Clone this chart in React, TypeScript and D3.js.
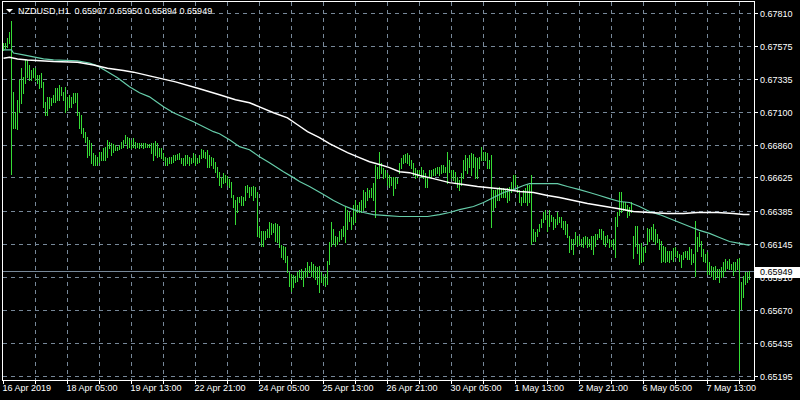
import React from "react";
import * as d3 from "d3";

const W = 800;
const H = 400;

// Symbol / header
const symbolTitle = "NZDUSD,H1";
const lastOHLC = [0.65907, 0.6595, 0.65894, 0.65949];
const bidPrice = 0.65949;

// Price axis tick labels
const yTicks = [0.6781, 0.67575, 0.67335, 0.671, 0.6686, 0.66625, 0.66385, 0.66145, 0.6591, 0.6567, 0.65435, 0.65195];
const yMin = 0.65195;
const yMax = 0.6781;

// Time axis labels (every 32 hourly bars)
const xLabels = ["16 Apr 2019", "18 Apr 05:00", "19 Apr 13:00", "22 Apr 21:00", "24 Apr 05:00", "25 Apr 13:00", "26 Apr 21:00", "30 Apr 05:00", "1 May 13:00", "2 May 21:00", "6 May 05:00", "7 May 13:00"];

// Hourly bars: highs and lows in points (1e-5)
const highs = [
  67594, 67594, 67630, 67673, 67752, 67242, 67098, 67185, 67328, 67414,
  67350, 67472, 67472, 67436, 67400, 67414, 67414, 67364, 67364, 67379,
  67314, 67170, 67206, 67206, 67199, 67220, 67271, 67271, 67292, 67278,
  67242, 67278, 67206, 67220, 67206, 67235, 67235, 67235, 67098, 67077,
  66983, 66955, 66919, 66897, 66876, 66804, 66790, 66775, 66811, 66811,
  66840, 66847, 66897, 66883, 66876, 66869, 66861, 66847, 66861, 66883,
  66897, 66933, 66919, 66912, 66897, 66912, 66883, 66876, 66876, 66876,
  66876, 66876, 66869, 66869, 66876, 66876, 66890, 66876, 66840, 66840,
  66804, 66775, 66768, 66775, 66775, 66790, 66790, 66797, 66804, 66768,
  66768, 66790, 66790, 66775, 66768, 66804, 66790, 66768, 66790, 66833,
  66825, 66811, 66825, 66790, 66775, 66768, 66739, 66703, 66667, 66631,
  66660, 66646, 66639, 66617, 66596, 66502, 66466, 66488, 66481, 66495,
  66481, 66567, 66574, 66560, 66560, 66567, 66560, 66517, 66265, 66236,
  66236, 66236, 66251, 66301, 66294, 66287, 66294, 66287, 66272, 66136,
  66129, 66121, 66057, 65942, 65927, 65920, 65913, 65942, 65956, 65963,
  65949, 65970, 66014, 65985, 66014, 65999, 65985, 65978, 65985, 65942,
  65913, 65927, 66021, 66157, 66301, 66251, 66200, 66193, 66236, 66251,
  66272, 66409, 66394, 66380, 66344, 66430, 66466, 66430, 66445, 66466,
  66538, 66524, 66552, 66538, 66552, 66588, 66718, 66703, 66811, 66732,
  66696, 66682, 66660, 66646, 66631, 66631, 66631, 66624, 66732, 66768,
  66790, 66797, 66804, 66790, 66754, 66732, 66696, 66682, 66682, 66703,
  66682, 66660, 66631, 66682, 66682, 66689, 66696, 66703, 66703, 66718,
  66718, 66703, 66811, 66754, 66682, 66682, 66667, 66631, 66610, 66660,
  66754, 66790, 66768, 66790, 66804, 66797, 66775, 66768, 66775, 66847,
  66811, 66811, 66804, 66754, 66790, 66538, 66538, 66552, 66560, 66552,
  66552, 66545, 66552, 66560, 66596, 66646, 66646, 66574, 66538, 66488,
  66538, 66552, 66574, 66574, 66646, 66251, 66229, 66251, 66287, 66323,
  66380, 66394, 66358, 66394, 66358, 66337, 66323, 66373, 66344, 66337,
  66308, 66308, 66287, 66200, 66179, 66179, 66229, 66200, 66200, 66179,
  66193, 66200, 66193, 66179, 66200, 66200, 66215, 66215, 66251, 66251,
  66236, 66200, 66208, 66179, 66172, 66179, 66337, 66380, 66517, 66524,
  66452, 66445, 66430, 66409, 66445, 66200, 66279, 66272, 66143, 66150,
  66121, 66129, 66258, 66251, 66265, 66287, 66251, 66215, 66179, 66164,
  66129, 66121, 66093, 66093, 66093, 66114, 66121, 66093, 66071, 66064,
  66085, 66093, 66093, 66121, 66107, 66071, 66308, 66193, 66229, 66164,
  66107, 66071, 66085, 66014, 65985, 65978, 65985, 65963, 65963, 65978,
  66014, 66035, 66021, 66035, 65999, 66014, 66014, 66035, 66042, 65870,
  65913, 65942, 65942, 65950,
];
const lows = [
  67544, 67558, 67565, 67594, 66653, 66983, 66983, 66976, 67098, 67163,
  67235, 67307, 67350, 67328, 67328, 67350, 67328, 67307, 67271, 67278,
  67134, 67077, 67077, 67127, 67149, 67170, 67170, 67185, 67185, 67220,
  67185, 67098, 67113, 67134, 67134, 67163, 67170, 67077, 66983, 66948,
  66919, 66883, 66775, 66790, 66732, 66718, 66718, 66718, 66739, 66754,
  66754, 66754, 66775, 66840, 66790, 66811, 66825, 66825, 66833, 66840,
  66847, 66876, 66840, 66847, 66840, 66847, 66840, 66847, 66840, 66847,
  66840, 66847, 66847, 66847, 66804, 66754, 66790, 66775, 66782, 66768,
  66754, 66718, 66718, 66732, 66732, 66739, 66754, 66761, 66761, 66732,
  66718, 66718, 66732, 66718, 66732, 66739, 66718, 66732, 66739, 66768,
  66775, 66768, 66703, 66703, 66718, 66696, 66667, 66631, 66574, 66560,
  66588, 66596, 66574, 66560, 66488, 66416, 66287, 66373, 66445, 66430,
  66430, 66466, 66517, 66488, 66502, 66466, 66488, 66200, 66193, 66129,
  66129, 66179, 66193, 66193, 66215, 66229, 66164, 66157, 66121, 66049,
  66035, 66014, 65942, 65841, 65805, 65834, 65870, 65877, 65906, 65892,
  65841, 65906, 65913, 65942, 65913, 65906, 65892, 65856, 65798, 65870,
  65856, 65841, 65856, 65999, 66129, 66143, 66129, 66143, 66164, 66179,
  66200, 66157, 66251, 66308, 66251, 66287, 66301, 66373, 66380, 66380,
  66394, 66416, 66466, 66481, 66488, 66466, 66337, 66624, 66624, 66660,
  66624, 66631, 66574, 66560, 66574, 66502, 66552, 66588, 66660, 66696,
  66732, 66739, 66732, 66718, 66696, 66646, 66624, 66631, 66646, 66631,
  66624, 66560, 66560, 66631, 66631, 66646, 66646, 66660, 66646, 66660,
  66667, 66667, 66588, 66667, 66624, 66610, 66588, 66560, 66538, 66574,
  66624, 66682, 66660, 66703, 66646, 66703, 66624, 66624, 66696, 66754,
  66754, 66754, 66696, 66696, 66265, 66394, 66416, 66466, 66466, 66481,
  66488, 66481, 66452, 66466, 66524, 66538, 66574, 66517, 66445, 66430,
  66452, 66445, 66430, 66452, 66143, 66164, 66164, 66200, 66236, 66265,
  66301, 66323, 66236, 66272, 66308, 66251, 66265, 66287, 66301, 66265,
  66251, 66215, 66193, 66085, 66107, 66071, 66143, 66129, 66143, 66129,
  66121, 66143, 66121, 66129, 66107, 66071, 66129, 66179, 66193, 66179,
  66143, 66129, 66157, 66121, 66129, 66107, 66049, 66272, 66358, 66380,
  66394, 66394, 66344, 66358, 66380, 66042, 66129, 66078, 65999, 66014,
  66021, 66085, 66143, 66164, 66179, 66164, 66143, 66157, 66107, 66014,
  66021, 66014, 66021, 66014, 66035, 66021, 66057, 66049, 66021, 65978,
  66035, 66049, 66035, 66035, 65999, 66014, 65913, 66093, 66129, 66057,
  66021, 66014, 65927, 65927, 65913, 65892, 65892, 65906, 65870, 65906,
  65913, 65949, 65970, 65963, 65963, 65920, 65949, 65963, 65238, 65676,
  65762, 65856, 65870, 65894,
];

// Slow moving average (white) vertices: bar index and value in points
const slowMaIdx = [0, 3, 7, 12, 25, 37, 45, 52, 60, 65, 73, 86, 98, 108, 116, 123, 128, 135, 142, 147, 152, 158, 163, 172, 178, 183, 188, 193, 198, 203, 208, 215, 223, 230, 237, 243, 252, 258, 265, 272, 278, 285, 292, 298, 307, 315, 323, 332, 340, 347, 357, 365, 370, 373];
const slowMaVal = [67484, 67491, 67479, 67472, 67460, 67456, 67436, 67412, 67395, 67384, 67357, 67314, 67264, 67221, 67185, 67163, 67134, 67091, 67055, 67005, 66955, 66912, 66869, 66804, 66768, 66739, 66718, 66696, 66667, 66660, 66639, 66617, 66588, 66574, 66560, 66552, 66538, 66524, 66517, 66495, 66481, 66459, 66438, 66423, 66402, 66380, 66373, 66366, 66366, 66373, 66373, 66366, 66358, 66358];

// Fast moving average (green) vertices
const fastMaIdx = [0, 4, 5, 10, 15, 20, 25, 37, 43, 47, 52, 57, 63, 68, 73, 80, 85, 95, 105, 108, 113, 118, 123, 128, 133, 140, 145, 148, 153, 160, 165, 170, 175, 180, 185, 192, 198, 203, 212, 218, 223, 228, 235, 240, 245, 250, 255, 260, 263, 277, 282, 288, 293, 298, 303, 308, 313, 318, 323, 328, 333, 338, 343, 348, 353, 358, 363, 368, 373];
const fastMaVal = [67544, 67544, 67522, 67508, 67494, 67479, 67472, 67465, 67450, 67429, 67386, 67343, 67278, 67235, 67206, 67134, 67091, 67027, 66955, 66940, 66897, 66847, 66825, 66775, 66732, 66667, 66624, 66596, 66560, 66502, 66459, 66423, 66394, 66373, 66358, 66351, 66344, 66344, 66344, 66358, 66373, 66394, 66416, 66445, 66481, 66517, 66538, 66567, 66581, 66581, 66560, 66538, 66517, 66495, 66473, 66452, 66445, 66416, 66380, 66358, 66330, 66301, 66272, 66244, 66222, 66193, 66164, 66150, 66136];

const FONT = "'Liberation Sans', Arial, sans-serif";
const GRID = "#778899";
const BAR = "#36dc36";
const FAST = "#66CDAA";

export default function App() {
  const n = highs.length;
  const x = d3.scaleLinear().domain([0, n - 1]).range([3.5, 3.5 + 2 * (n - 1)]);
  const y = d3.scaleLinear().domain([yMin, yMax]).range([376, 13]);
  const snap = (v: number) => Math.round(v) + 0.5;
  const pt = (v: number) => v / 100000;

  const left = 2.5;
  const right = 754.5;
  const top = 1.5;
  const bottom = 380.5;

  const vGridIdx = d3.range(16, n, 16);
  const tickIdx = d3.range(0, n, 16);
  const labelIdx = xLabels.map((_, k) => k * 32);

  const slowLine = d3
    .line<number>()
    .x((_, i) => x(slowMaIdx[i]))
    .y((d) => y(pt(d)));
  const fastLine = d3
    .line<number>()
    .x((_, i) => x(fastMaIdx[i]))
    .y((d) => y(pt(d)));

  const bidY = snap(y(bidPrice));
  const header = `${symbolTitle}  ${lastOHLC.map((v) => v.toFixed(5)).join(" ")}`;

  return (
    <svg
      width={W}
      height={H}
      style={{ position: "absolute", left: 0, top: 0, background: "#000" }}
      fontFamily={FONT}
    >
      <rect x={0} y={0} width={W} height={H} fill="#000" />
      {/* horizontal grid */}
      {yTicks.map((t) => (
        <line
          key={"hg" + t}
          x1={left}
          x2={right}
          y1={snap(y(t))}
          y2={snap(y(t))}
          stroke={GRID}
          strokeDasharray="4,4"
          shapeRendering="crispEdges"
        />
      ))}
      {/* vertical grid */}
      {vGridIdx.map((i) => (
        <line
          key={"vg" + i}
          x1={x(i)}
          x2={x(i)}
          y1={top}
          y2={bottom}
          stroke={GRID}
          strokeDasharray="4,4"
          shapeRendering="crispEdges"
        />
      ))}
      {/* bid line */}
      <line x1={left} x2={right} y1={bidY} y2={bidY} stroke={GRID} shapeRendering="crispEdges" />
      {/* bars */}
      {highs.map((h, i) => {
        const y1 = Math.round(y(pt(h)));
        let y2 = Math.round(y(pt(lows[i])));
        if (y2 <= y1) y2 = y1 + 1;
        return (
          <line
            key={"b" + i}
            x1={x(i)}
            x2={x(i)}
            y1={y1}
            y2={y2 + 1}
            stroke={BAR}
            strokeWidth={1}
            shapeRendering="crispEdges"
          />
        );
      })}
      {/* moving averages */}
      <path d={fastLine(fastMaVal) || ""} fill="none" stroke={FAST} strokeWidth={1.2} />
      <path d={slowLine(slowMaVal) || ""} fill="none" stroke="#ffffff" strokeWidth={1.5} />
      {/* frame */}
      <rect
        x={left}
        y={top}
        width={right - left}
        height={bottom - top}
        fill="none"
        stroke="#ffffff"
        shapeRendering="crispEdges"
      />
      {/* right axis ticks + labels */}
      {yTicks.map((t) => (
        <g key={"yt" + t}>
          <line x1={right} x2={right + 3} y1={snap(y(t))} y2={snap(y(t))} stroke="#fff" shapeRendering="crispEdges" />
          <text x={760} y={snap(y(t)) + 3.5} fill="#fff" fontSize={9}>
            {t.toFixed(5)}
          </text>
        </g>
      ))}
      {/* bid label */}
      <rect x={755} y={bidY - 4.5} width={45} height={11} fill="#fff" />
      <text x={760} y={bidY + 3.5} fill="#000" fontSize={9}>
        {bidPrice.toFixed(5)}
      </text>
      {/* bottom axis ticks + labels */}
      {tickIdx.map((i) => (
        <line key={"xt" + i} x1={x(i)} x2={x(i)} y1={bottom} y2={bottom + 3} stroke="#fff" shapeRendering="crispEdges" />
      ))}
      {xLabels.map((lab, k) => (
        <text key={"xl" + k} x={x(labelIdx[k]) - 1} y={391} fill="#fff" fontSize={9}>
          {lab}
        </text>
      ))}
      {/* header */}
      <path d="M6,9 L13,9 L9.5,12.5 Z" fill="#fff" />
      <text x={18} y={13.5} fill="#fff" fontSize={9} xmlSpace="preserve" style={{ whiteSpace: "pre" }}>
        {header}
      </text>
    </svg>
  );
}
